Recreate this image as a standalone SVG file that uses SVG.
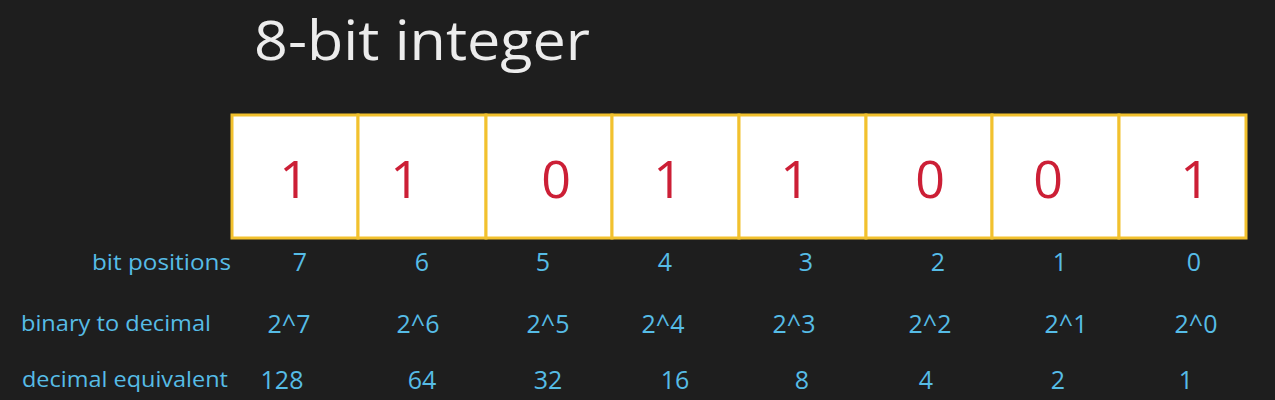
<svg xmlns="http://www.w3.org/2000/svg" width="1275" height="400" viewBox="0 0 1275 400">
<style>
.bg{fill:#1e1e1e}
.cell{fill:#ffffff;stroke:#f2c12e;stroke-width:3}
.bit{font-family:"Open Sans","Liberation Sans",sans-serif;font-size:52px;fill:#cc1f36;text-anchor:middle}
.lbl{font-family:"Open Sans","Liberation Sans",sans-serif;font-size:22px;fill:#56bce6}
.val{font-family:"Open Sans","Liberation Sans",sans-serif;font-size:25px;fill:#56bce6;text-anchor:middle}
.title{font-family:"Open Sans","Liberation Sans",sans-serif;font-size:54px;fill:#ececec}
</style>
<rect class="bg" x="0" y="0" width="1275" height="400"/>
<text class="title" x="254" y="60" textLength="336" lengthAdjust="spacingAndGlyphs">8-bit integer</text>
<g id="cells">
<g id="bit7"><rect class="cell" x="232" y="115" width="126" height="123"/><text class="bit" x="294" y="198">1</text></g>
<g id="bit6"><rect class="cell" x="358" y="115" width="128" height="123"/><text class="bit" x="405" y="198">1</text></g>
<g id="bit5"><rect class="cell" x="486" y="115" width="126" height="123"/><text class="bit" x="556" y="198">0</text></g>
<g id="bit4"><rect class="cell" x="612" y="115" width="127" height="123"/><text class="bit" x="668" y="198">1</text></g>
<g id="bit3"><rect class="cell" x="739" y="115" width="127" height="123"/><text class="bit" x="795" y="198">1</text></g>
<g id="bit2"><rect class="cell" x="866" y="115" width="126" height="123"/><text class="bit" x="930" y="198">0</text></g>
<g id="bit1"><rect class="cell" x="992" y="115" width="127" height="123"/><text class="bit" x="1048" y="198">0</text></g>
<g id="bit0"><rect class="cell" x="1119" y="115" width="127" height="123"/><text class="bit" x="1195" y="198">1</text></g>
</g>
<g id="labels">
<text class="lbl" x="92" y="270" textLength="139" lengthAdjust="spacingAndGlyphs">bit positions</text>
<text class="lbl" x="21" y="331" textLength="190" lengthAdjust="spacingAndGlyphs">binary to decimal</text>
<text class="lbl" x="22" y="387" textLength="206" lengthAdjust="spacingAndGlyphs">decimal equivalent</text>
</g>
<g id="positions">
<text class="val" x="300" y="271">7</text>
<text class="val" x="422" y="271">6</text>
<text class="val" x="543" y="271">5</text>
<text class="val" x="665" y="271">4</text>
<text class="val" x="806" y="271">3</text>
<text class="val" x="938" y="271">2</text>
<text class="val" x="1060" y="271">1</text>
<text class="val" x="1194" y="271">0</text>
</g>
<g id="powers">
<text class="val" x="289" y="333">2^7</text>
<text class="val" x="418" y="333">2^6</text>
<text class="val" x="548" y="333">2^5</text>
<text class="val" x="663" y="333">2^4</text>
<text class="val" x="794" y="333">2^3</text>
<text class="val" x="930" y="333">2^2</text>
<text class="val" x="1066" y="333">2^1</text>
<text class="val" x="1196" y="333">2^0</text>
</g>
<g id="decimals">
<text class="val" x="282" y="389">128</text>
<text class="val" x="422" y="389">64</text>
<text class="val" x="548" y="389">32</text>
<text class="val" x="675" y="389">16</text>
<text class="val" x="802" y="389">8</text>
<text class="val" x="926" y="389">4</text>
<text class="val" x="1058" y="389">2</text>
<text class="val" x="1186" y="389">1</text>
</g>
</svg>
